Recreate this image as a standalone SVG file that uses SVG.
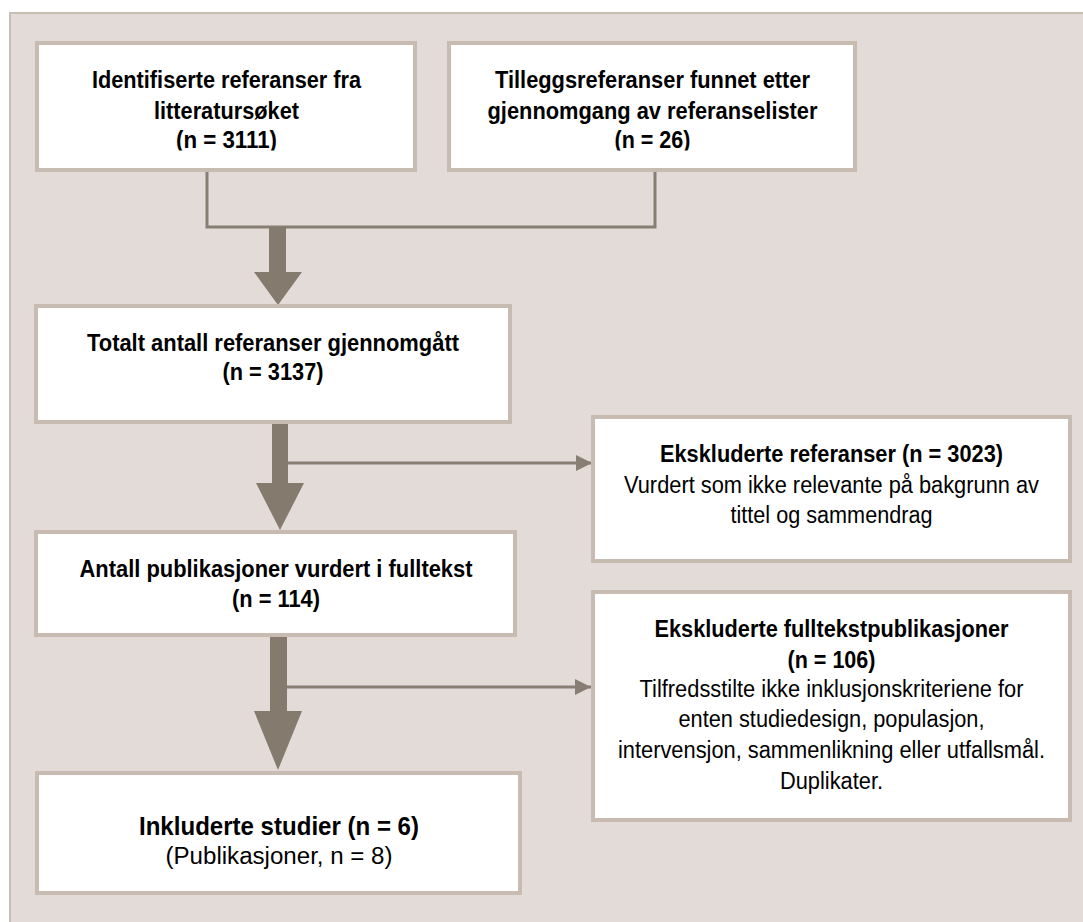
<svg xmlns="http://www.w3.org/2000/svg" width="1083" height="922" viewBox="0 0 1083 922">
<style>
.box{fill:#ffffff;stroke:#c8bcb2;stroke-width:4}
.b{font-family:"Liberation Sans",Arial,sans-serif;font-weight:bold;font-size:23.5px;fill:#000;text-anchor:middle}
.n{font-family:"Liberation Sans",Arial,sans-serif;font-size:23px;fill:#000;text-anchor:middle}
.big{font-size:26px}
.thick{fill:#847a6e}
.thin{stroke:#887e74;stroke-width:3;fill:none}
</style>
<defs>
<marker id="ah" markerUnits="userSpaceOnUse" markerWidth="16" markerHeight="16" refX="16" refY="8" orient="auto">
<path d="M0,0 L16,8 L0,16 z" fill="#887e74"/>
</marker>
<clipPath id="clipTop"><rect x="0" y="0" width="1083" height="150.5"/></clipPath>
</defs>
<rect x="10" y="13" width="1090" height="930" fill="#e2dbd7" stroke="#c9beb5" stroke-width="2"/>

<g id="connectors">
<polyline class="thin" points="207,172 207,227 655,227 655,172"/>
<polygon class="thick" points="269,227 286,227 286,272 302,272 278,305 254,272 269,272"/>
<polygon class="thick" points="272,424 288,424 288,483 304,483 280,530 256,483 272,483"/>
<polygon class="thick" points="270,637 287,637 287,711 302,711 278,770 254,711 270,711"/>
<line class="thin" x1="288" y1="463" x2="592" y2="463" marker-end="url(#ah)"/>
<line class="thin" x1="287" y1="687" x2="591" y2="687" marker-end="url(#ah)"/>
</g>

<g id="node-identifiserte">
<rect class="box" x="37" y="43" width="378" height="127"/>
<g clip-path="url(#clipTop)">
<text class="b" x="226.5" y="88" textLength="269" lengthAdjust="spacingAndGlyphs">Identifiserte referanser fra</text>
<text class="b" x="226.5" y="119" textLength="145" lengthAdjust="spacingAndGlyphs">litteratursøket</text>
<text class="b" x="226.5" y="148" textLength="101" lengthAdjust="spacingAndGlyphs">(n = 3111)</text>
</g>
</g>

<g id="node-tillegg">
<rect class="box" x="449" y="43" width="406" height="127"/>
<g clip-path="url(#clipTop)">
<text class="b" x="652.5" y="88" textLength="315" lengthAdjust="spacingAndGlyphs">Tilleggsreferanser funnet etter</text>
<text class="b" x="652.5" y="119" textLength="330" lengthAdjust="spacingAndGlyphs">gjennomgang av referanselister</text>
<text class="b" x="652.5" y="148" textLength="76" lengthAdjust="spacingAndGlyphs">(n = 26)</text>
</g>
</g>

<g id="node-totalt">
<rect class="box" x="36" y="306" width="474" height="116"/>
<text class="b" x="273" y="351" textLength="372" lengthAdjust="spacingAndGlyphs">Totalt antall referanser gjennomgått</text>
<text class="b" x="273" y="380" textLength="101" lengthAdjust="spacingAndGlyphs">(n = 3137)</text>
</g>

<g id="node-ekskl-ref">
<rect class="box" x="593" y="417" width="477" height="144"/>
<text class="b" x="831.5" y="462" textLength="343" lengthAdjust="spacingAndGlyphs">Ekskluderte referanser (n = 3023)</text>
<text class="n" x="831.5" y="493" textLength="415" lengthAdjust="spacingAndGlyphs">Vurdert som ikke relevante på bakgrunn av</text>
<text class="n" x="831.5" y="523" textLength="202" lengthAdjust="spacingAndGlyphs">tittel og sammendrag</text>
</g>

<g id="node-fulltekst">
<rect class="box" x="36" y="532" width="479" height="103"/>
<text class="b" x="276" y="577" textLength="393" lengthAdjust="spacingAndGlyphs">Antall publikasjoner vurdert i fulltekst</text>
<text class="b" x="276" y="607" textLength="88" lengthAdjust="spacingAndGlyphs">(n = 114)</text>
</g>

<g id="node-ekskl-fulltekst">
<rect class="box" x="593" y="592" width="477" height="228"/>
<text class="b" x="831.5" y="637" textLength="354" lengthAdjust="spacingAndGlyphs">Ekskluderte fulltekstpublikasjoner</text>
<text class="b" x="831.5" y="668" textLength="88" lengthAdjust="spacingAndGlyphs">(n = 106)</text>
<text class="n" x="831.5" y="697" textLength="384" lengthAdjust="spacingAndGlyphs">Tilfredsstilte ikke inklusjonskriteriene for</text>
<text class="n" x="831.5" y="727" textLength="306" lengthAdjust="spacingAndGlyphs">enten studiedesign, populasjon,</text>
<text class="n" x="831.5" y="758" textLength="427" lengthAdjust="spacingAndGlyphs">intervensjon, sammenlikning eller utfallsmål.</text>
<text class="n" x="831.5" y="789" textLength="103" lengthAdjust="spacingAndGlyphs">Duplikater.</text>
</g>

<g id="node-inkluderte">
<rect class="box" x="37" y="773" width="483" height="120"/>
<text class="b big" x="279" y="835" textLength="280" lengthAdjust="spacingAndGlyphs">Inkluderte studier (n = 6)</text>
<text class="n" x="279" y="864" textLength="227" lengthAdjust="spacingAndGlyphs">(Publikasjoner, n = 8)</text>
</g>
</svg>
